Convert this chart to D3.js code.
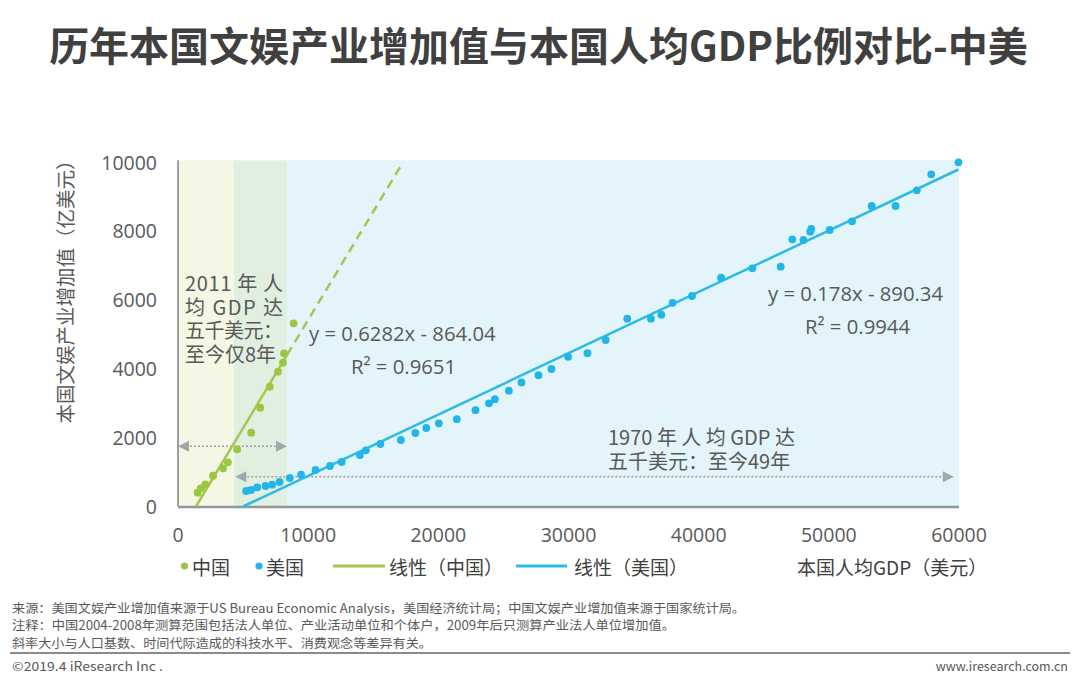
<!DOCTYPE html>
<html><head><meta charset="utf-8">
<script src="https://cdn.jsdelivr.net/npm/d3@7"></script>
<style>
body{margin:0;background:#fff;}
svg{display:block;font-family:"Noto Sans CJK SC","Noto Sans",sans-serif;}
</style>
</head><body>
<svg id="c" width="1080" height="680"></svg>
<script>
// ---------------- data ----------------
const chinaGDP   = [1509,1753,2099,2694,3468,3832,4550,5618,6317,7051,7679,8067,8148,8879];
const chinaValue = [400,528,644,894,1109,1283,1660,2142,2868,3478,3913,4174,4447,5318];
const usGDP = [5234,5609,6095,6726,7226,7801,8592,9453,10565,11674,12575,13976,14434,15544,17121,18237,
  19071,20039,21417,22857,23889,24342,25419,26387,27695,28691,29968,31459,32854,34515,36330,37134,37998,
  39490,41725,44123,46302,48050,48570,47195,48651,50066,51784,53291,55124,56763,57867,59958];
const usValue = [450,479,557,595,633,711,827,923,1060,1176,1292,1495,1631,1814,1930,2134,
  2279,2415,2534,2795,2996,3115,3361,3602,3811,3991,4345,4450,4833,5451,5451,5568,5913,
  6110,6642,6914,6961,7736,7977,7756,8055,8026,8279,8723,8723,9179,9643,9991];
const chinaFit = [0.6282, -864.04];   // slope, intercept
const usFit    = [0.178, -890.34];
const xTicks = [0,10000,20000,30000,40000,50000,60000];
const yTicks = [0,2000,4000,6000,8000,10000];
const bandEdges = [0, 4300, 8380, 60000];
const chinaArrow = [0, 8380, 1750];     // x from, x to, y
const usArrow    = [4400, 59600, 865];
const chinaNote = ["2011 年 人","均 GDP 达","五千美元：","至今仅8年"];
const usNote = ["1970 年 人 均 GDP 达","五千美元：至今49年"];
const chinaEq = ["y = 0.6282x - 864.04","R² = 0.9651"];
const usEq = ["y = 0.178x - 890.34","R² = 0.9944"];
const legendItems = ["中国","美国","线性（中国）","线性（美国）"];
const titleText = "历年本国文娱产业增加值与本国人均GDP比例对比-中美";
const yTitle = "本国文娱产业增加值（亿美元）";
const xTitle = "本国人均GDP（美元）";
const notes = [
  "来源：美国文娱产业增加值来源于US Bureau Economic Analysis，美国经济统计局；中国文娱产业增加值来源于国家统计局。",
  "注释：中国2004-2008年测算范围包括法人单位、产业活动单位和个体户，2009年后只测算产业法人单位增加值。",
  "斜率大小与人口基数、时间代际造成的科技水平、消费观念等差异有关。"
];

// ---------------- drawing ----------------
const GREEN = "#9bc641", GREEN_L = "#a3c653", CYAN = "#22b6e8", CYAN_L = "#2dbbe6";
const TXT = "#595959";
const svg = d3.select("#c");
svg.append("rect").attr("width",1080).attr("height",680).attr("fill","#fff");

const x = d3.scaleLinear().domain([0,60000]).range([178,959]);
const y = d3.scaleLinear().domain([0,10000]).range([506.5,162]);

// title
svg.append("text").attr("x",538.5).attr("y",44).attr("text-anchor","middle")
  .attr("dominant-baseline","central").attr("font-size",40).attr("font-weight",700)
  .attr("fill","#404040").text(titleText);

// background bands
const bandColors = ["#f4f7e3","#e1efe1","#e3f5fb"];
svg.selectAll("rect.band").data(d3.pairs(bandEdges)).join("rect").attr("class","band")
  .attr("x",d=>x(d[0])).attr("width",d=>x(d[1])-x(d[0]))
  .attr("y",y(10050)).attr("height",y(0)-y(10050))
  .attr("fill",(d,i)=>bandColors[i]);

// axes lines
svg.append("line").attr("x1",x(0)).attr("x2",x(0)).attr("y1",y(10050)).attr("y2",y(0))
  .attr("stroke","#6f6f6f").attr("stroke-width",1.3);
svg.append("line").attr("x1",x(0)).attr("x2",x(60000)).attr("y1",y(0)+0.5).attr("y2",y(0)+0.5)
  .attr("stroke","#8e979c").attr("stroke-width",2.5);

// tick labels
svg.selectAll("text.yt").data(yTicks).join("text").attr("class","yt")
  .attr("x",157).attr("y",d=>y(d)).attr("text-anchor","end").attr("dominant-baseline","central")
  .attr("font-family","'Open Sans','Noto Sans',sans-serif").attr("font-size",19.5).attr("fill",TXT).text(d=>d);
svg.selectAll("text.xt").data(xTicks).join("text").attr("class","xt")
  .attr("x",d=>x(d)).attr("y",534).attr("text-anchor","middle").attr("dominant-baseline","central")
  .attr("font-family","'Open Sans','Noto Sans',sans-serif").attr("font-size",19.5).attr("fill",TXT).text(d=>d);

// y title
svg.append("text").attr("transform","translate(64,287) rotate(-90)").attr("text-anchor","middle")
  .attr("dominant-baseline","central").attr("font-size",19.5).attr("fill",TXT).text(yTitle);

// arrows
function arrow(a){
  const g = svg.append("g");
  const x1 = x(a[0]), x2 = x(a[1]), yy = y(a[2]);
  g.append("line").attr("x1",x1+8).attr("x2",x2-8).attr("y1",yy).attr("y2",yy)
    .attr("stroke","#a0a0a0").attr("stroke-width",1.6).attr("stroke-dasharray","2,2");
  g.append("path").attr("d",`M${x1},${yy}L${x1+11},${yy-5.5}L${x1+11},${yy+5.5}Z`).attr("fill","#9fa8ad");
  g.append("path").attr("d",`M${x2},${yy}L${x2-11},${yy-5.5}L${x2-11},${yy+5.5}Z`).attr("fill","#9fa8ad");
}
arrow(chinaArrow); arrow(usArrow);

// trend lines
const line = d3.line().x(d=>x(d[0])).y(d=>y(d[1]));
const fit = (f,v)=>[v, f[0]*v+f[1]];
const cx0 = -chinaFit[1]/chinaFit[0], cxMid = bandEdges[2], cxEnd = (10000-chinaFit[1])/chinaFit[0];
svg.append("path").attr("d",line([fit(chinaFit,cx0),fit(chinaFit,cxMid)]))
  .attr("stroke",GREEN_L).attr("stroke-width",2.5).attr("fill","none");
svg.append("path").attr("d",line([fit(chinaFit,cxMid),fit(chinaFit,cxEnd)]))
  .attr("stroke",GREEN_L).attr("stroke-width",2.5).attr("fill","none").attr("stroke-dasharray","9,6");
const ux0 = -usFit[1]/usFit[0], ux1 = d3.max(usGDP);
svg.append("path").attr("d",line([fit(usFit,ux0),fit(usFit,ux1)]))
  .attr("stroke",CYAN_L).attr("stroke-width",2.5).attr("fill","none");

// points
svg.selectAll("circle.cn").data(chinaGDP).join("circle").attr("class","cn")
  .attr("cx",d=>x(d)).attr("cy",(d,i)=>y(chinaValue[i])).attr("r",3.9).attr("fill",GREEN);
svg.selectAll("circle.us").data(usGDP).join("circle").attr("class","us")
  .attr("cx",d=>x(d)).attr("cy",(d,i)=>y(usValue[i])).attr("r",3.9).attr("fill",CYAN);

// annotations (multi-line notes as one text block each)
const cnText = svg.append("text").attr("font-size",20).attr("fill",TXT);
chinaNote.forEach((t,i)=>{
  const ts = cnText.append("tspan").attr("x",185).attr("y",291+i*23.7).text(t);
  if(i<3) ts.attr("textLength",98).attr("lengthAdjust","spacing");
});
const usText = svg.append("text").attr("font-size",20).attr("fill",TXT);
usNote.forEach((t,i)=>{
  usText.append("tspan").attr("x",608).attr("y",445+i*24).text(t);
});
const eqG = svg.append("g").attr("font-size",20.3).attr("fill",TXT).attr("font-family","'Open Sans','Noto Sans',sans-serif");
eqG.append("text").attr("x",309).attr("y",333).attr("dominant-baseline","central").text(chinaEq[0]);
eqG.append("text").attr("x",351).attr("y",366).attr("dominant-baseline","central").text(chinaEq[1]);
eqG.append("text").attr("x",768).attr("y",293).attr("dominant-baseline","central").text(usEq[0]);
eqG.append("text").attr("x",805).attr("y",326).attr("dominant-baseline","central").text(usEq[1]);

// legend
const LY = 566;
const lg = svg.append("g").attr("font-size",19).attr("fill","#404040");
lg.append("circle").attr("cx",184.5).attr("cy",LY).attr("r",3.6).attr("fill",GREEN);
lg.append("text").attr("x",192).attr("y",LY).attr("dominant-baseline","central").text(legendItems[0]);
lg.append("circle").attr("cx",259).attr("cy",LY).attr("r",3.6).attr("fill",CYAN);
lg.append("text").attr("x",266).attr("y",LY).attr("dominant-baseline","central").text(legendItems[1]);
lg.append("line").attr("x1",333).attr("x2",385).attr("y1",LY).attr("y2",LY).attr("stroke",GREEN_L).attr("stroke-width",3);
lg.append("text").attr("x",389).attr("y",LY).attr("dominant-baseline","central").text(legendItems[2]);
lg.append("line").attr("x1",516).attr("x2",567).attr("y1",LY).attr("y2",LY).attr("stroke",CYAN_L).attr("stroke-width",3);
lg.append("text").attr("x",574).attr("y",LY).attr("dominant-baseline","central").text(legendItems[3]);
lg.append("text").attr("x",797).attr("y",LY).attr("dominant-baseline","central").text(xTitle);

// footer
const fg = svg.append("g").attr("font-size",12.5).attr("fill","#595959");
const noteW = [733, 663, 420];
notes.forEach((t,i)=>{
  fg.append("text").attr("x",12).attr("y",607+i*17.5).attr("dominant-baseline","central")
    .attr("textLength",noteW[i]).attr("lengthAdjust","spacingAndGlyphs").text(t);
});
svg.append("line").attr("x1",10).attr("x2",1070).attr("y1",653).attr("y2",653).attr("stroke","#8a8a8a").attr("stroke-width",2);
fg.append("text").attr("x",12).attr("y",665).attr("dominant-baseline","central")
  .attr("textLength",151).attr("lengthAdjust","spacingAndGlyphs").text("©2019.4 iResearch Inc .");
fg.append("text").attr("x",1068).attr("y",665).attr("dominant-baseline","central").attr("text-anchor","end")
  .text("www.iresearch.com.cn");
</script>
</body></html>
